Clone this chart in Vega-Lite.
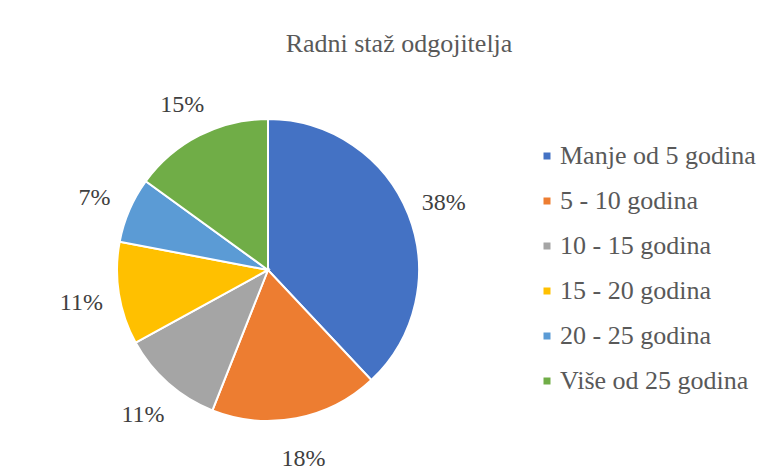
{
  "$schema": "https://vega.github.io/schema/vega-lite/v6.json",
  "autosize": "none",
  "width": 536,
  "height": 300,
  "padding": {"left": 0, "top": 120, "right": 236, "bottom": 51},
  "background": "white",
  "title": {
    "text": "Radni staž odgojitelja",
    "font": "Liberation Serif",
    "fontSize": 26,
    "fontWeight": "normal",
    "color": "#595959",
    "anchor": "middle",
    "dx": 131,
    "offset": 36
  },
  "data": {
    "values": [
      {"kategorija": "Manje od 5 godina", "udio": 38, "red": 1, "oznaka": "38%"},
      {"kategorija": "5 - 10 godina", "udio": 18, "red": 2, "oznaka": "18%"},
      {"kategorija": "10 - 15 godina", "udio": 11, "red": 3, "oznaka": "11%"},
      {"kategorija": "15 - 20 godina", "udio": 11, "red": 4, "oznaka": "11%"},
      {"kategorija": "20 - 25 godina", "udio": 7, "red": 5, "oznaka": "7%"},
      {"kategorija": "Više od 25 godina", "udio": 15, "red": 6, "oznaka": "15%"}
    ]
  },
  "encoding": {
    "theta": {"field": "udio", "type": "quantitative", "stack": true},
    "order": {"field": "red", "type": "quantitative"}
  },
  "layer": [
    {
      "mark": {"type": "arc", "outerRadius": 151, "stroke": "white", "strokeWidth": 2},
      "encoding": {
        "color": {
          "field": "kategorija",
          "type": "nominal",
          "sort": ["Manje od 5 godina", "5 - 10 godina", "10 - 15 godina", "15 - 20 godina", "20 - 25 godina", "Više od 25 godina"],
          "scale": {
            "domain": ["Manje od 5 godina", "5 - 10 godina", "10 - 15 godina", "15 - 20 godina", "20 - 25 godina", "Više od 25 godina"],
            "range": ["#4472C4", "#ED7D31", "#A5A5A5", "#FFC000", "#5B9BD5", "#70AD47"]
          },
          "legend": {
            "title": null,
            "orient": "none",
            "legendX": 534,
            "legendY": 23,
            "symbolType": "square",
            "symbolSize": 49,
            "symbolStrokeWidth": 0,
            "labelFont": "Liberation Serif",
            "labelFontSize": 26,
            "labelColor": "#595959",
            "labelOffset": 0,
            "rowPadding": 19,
            "labelLimit": 300
          }
        }
      }
    },
    {
      "mark": {"type": "text", "radius": 189, "dy": 3, "font": "Liberation Serif", "fontSize": 24, "fill": "#404040"},
      "encoding": {
        "text": {"field": "oznaka", "type": "nominal"}
      }
    }
  ],
  "config": {"view": {"stroke": null}}
}
